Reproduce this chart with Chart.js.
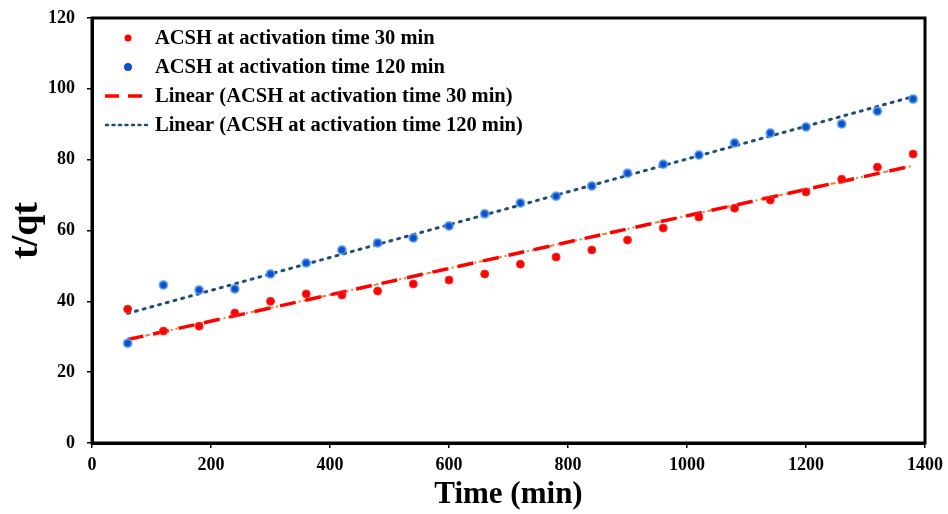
<!DOCTYPE html>
<html>
<head>
<meta charset="utf-8">
<script src="https://cdn.jsdelivr.net/npm/chart.js@4.4.0/dist/chart.umd.min.js"></script>
<style>
  html, body { margin: 0; padding: 0; background: #fff; }
  #wrap { width: 948px; height: 514px; position: relative; }
</style>
</head>
<body>
<div id="wrap"><canvas id="chart"></canvas></div>
<script>
const times = [60, 120, 180, 240, 300, 360, 420, 480, 540, 600, 660, 720, 780, 840, 900, 960, 1020, 1080, 1140, 1200, 1260, 1320, 1380];
const tq30 = [37.8, 31.6, 33.0, 36.7, 40.0, 42.1, 41.8, 42.9, 44.9, 46.0, 47.7, 50.5, 52.5, 54.5, 57.3, 60.7, 63.8, 66.3, 68.6, 70.9, 74.5, 77.9, 81.6];
const tq120 = [28.2, 44.6, 43.2, 43.5, 47.7, 50.8, 54.5, 56.5, 57.9, 61.3, 64.7, 67.8, 69.7, 72.6, 76.2, 78.7, 81.3, 84.7, 87.5, 89.2, 90.1, 93.7, 97.1];
const trendX = [60, 1380];
const trend30 = [29.2, 78.3];
const trend120 = [36.6, 97.8];
const labels = [
  'ACSH at activation time 30 min',
  'ACSH at activation time 120 min',
  'Linear (ACSH at activation time 30 min)',
  'Linear (ACSH at activation time 120 min)'
];

const font = 'bold 20.5px "Liberation Serif", "Times New Roman", serif';

function pairs(xs, ys) {
  return xs.map((x, i) => ({ x: x, y: ys[i] }));
}

// frame + legend drawn by hand
const extras = {
  id: 'extras',
  afterDatasetsDraw(chart) {
    const ctx = chart.ctx;
    const a = chart.chartArea;
    ctx.save();
    ctx.strokeStyle = '#000';
    ctx.lineWidth = 3;
    ctx.strokeRect(a.left, a.top, a.right - a.left, a.bottom - a.top);

    ctx.font = font;
    ctx.fillStyle = '#000';
    ctx.textBaseline = 'middle';
    const rows = [38, 67, 96, 125];
    labels.forEach((txt, i) => {
      const y = rows[i];
      if (i === 0) {
        ctx.beginPath();
        ctx.arc(128, y, 3.5, 0, Math.PI * 2);
        ctx.fillStyle = '#ff0000';
        ctx.fill();
      } else if (i === 1) {
        ctx.beginPath();
        ctx.arc(128, y, 4, 0, Math.PI * 2);
        ctx.fillStyle = '#0a4fd0';
        ctx.fill();
      } else if (i === 2) {
        ctx.beginPath();
        ctx.setLineDash([14, 9]);
        ctx.strokeStyle = '#ff0000';
        ctx.lineWidth = 3.5;
        ctx.moveTo(105, y);
        ctx.lineTo(150, y);
        ctx.stroke();
      } else {
        ctx.beginPath();
        ctx.setLineDash([2, 4.5]);
        ctx.lineCap = 'round';
        ctx.strokeStyle = '#1f4e79';
        ctx.lineWidth = 2.5;
        ctx.moveTo(106, y);
        ctx.lineTo(150, y);
        ctx.stroke();
      }
      ctx.setLineDash([]);
      ctx.fillStyle = '#000';
      ctx.fillText(txt, 155, y + 1);
    });
    ctx.restore();
  }
};

const ctx = document.getElementById('chart').getContext('2d');
new Chart(ctx, {
  type: 'scatter',
  data: {
    datasets: [
      {
        label: labels[0],
        data: pairs(times, tq30),
        backgroundColor: '#ff0000',
        borderColor: '#ff3030',
        pointRadius: 4,
        pointBorderWidth: 1,
        order: 1
      },
      {
        label: labels[1],
        data: pairs(times, tq120),
        backgroundColor: '#0a4fd0',
        borderColor: 'rgba(90, 160, 235, 0.75)',
        pointRadius: 4,
        pointBorderWidth: 2,
        order: 2
      },
      {
        label: labels[2],
        type: 'line',
        data: pairs(trendX, trend30),
        borderColor: '#ff0000',
        borderWidth: 3.5,
        borderDash: [16, 10],
        pointRadius: 0,
        fill: false,
        order: 3
      },
      {
        label: 'orange',
        type: 'line',
        data: pairs(trendX, trend30),
        borderColor: '#ed7d31',
        borderWidth: 2,
        borderDash: [5, 3, 2, 3, 2, 3],
        pointRadius: 0,
        fill: false,
        order: 5
      },
      {
        label: labels[3],
        type: 'line',
        data: pairs(trendX, trend120),
        borderColor: '#1f4e79',
        borderWidth: 3,
        borderDash: [2, 6],
        borderCapStyle: 'round',
        pointRadius: 0,
        fill: false,
        order: 4
      }
    ]
  },
  options: {
    responsive: true,
    maintainAspectRatio: false,
    animation: false,
    layout: { padding: { top: 18, right: 23, left: 0, bottom: 0 } },
    plugins: {
      legend: { display: false },
      tooltip: { enabled: false }
    },
    scales: {
      x: {
        type: 'linear',
        min: 0,
        max: 1400,
        afterFit: scale => {
          scale.height = 71;
          scale.paddingLeft = 0;
          scale.paddingRight = 0;
        },
        ticks: {
          stepSize: 200,
          color: '#000',
          font: { family: '"Liberation Serif", serif', size: 18, weight: 'bold' },
          padding: 7,
          callback: v => String(v)
        },
        grid: { drawOnChartArea: false, drawTicks: true, tickLength: 5, color: '#000', lineWidth: 1.5 },
        border: { display: true, color: '#000', width: 3 },
        title: {
          display: true,
          text: 'Time (min)',
          color: '#000',
          font: { family: '"Liberation Serif", serif', size: 31, weight: 'bold' },
          padding: { top: 4, bottom: 0 }
        }
      },
      y: {
        min: 0,
        max: 120,
        afterFit: scale => {
          scale.width = 92;
          scale.paddingTop = 0;
          scale.paddingBottom = 0;
        },
        ticks: {
          stepSize: 20,
          color: '#000',
          font: { family: '"Liberation Serif", serif', size: 18, weight: 'bold' },
          padding: 12
        },
        grid: { drawOnChartArea: false, drawTicks: true, tickLength: 5, color: '#000', lineWidth: 1.5 },
        border: { display: true, color: '#000', width: 3 },
        title: {
          display: true,
          text: 't/qt',
          color: '#000',
          font: { family: '"Liberation Serif", serif', size: 38, weight: 'bold' },
          padding: { top: 4, bottom: 0 }
        }
      }
    }
  },
  plugins: [extras]
});
</script>
</body>
</html>
